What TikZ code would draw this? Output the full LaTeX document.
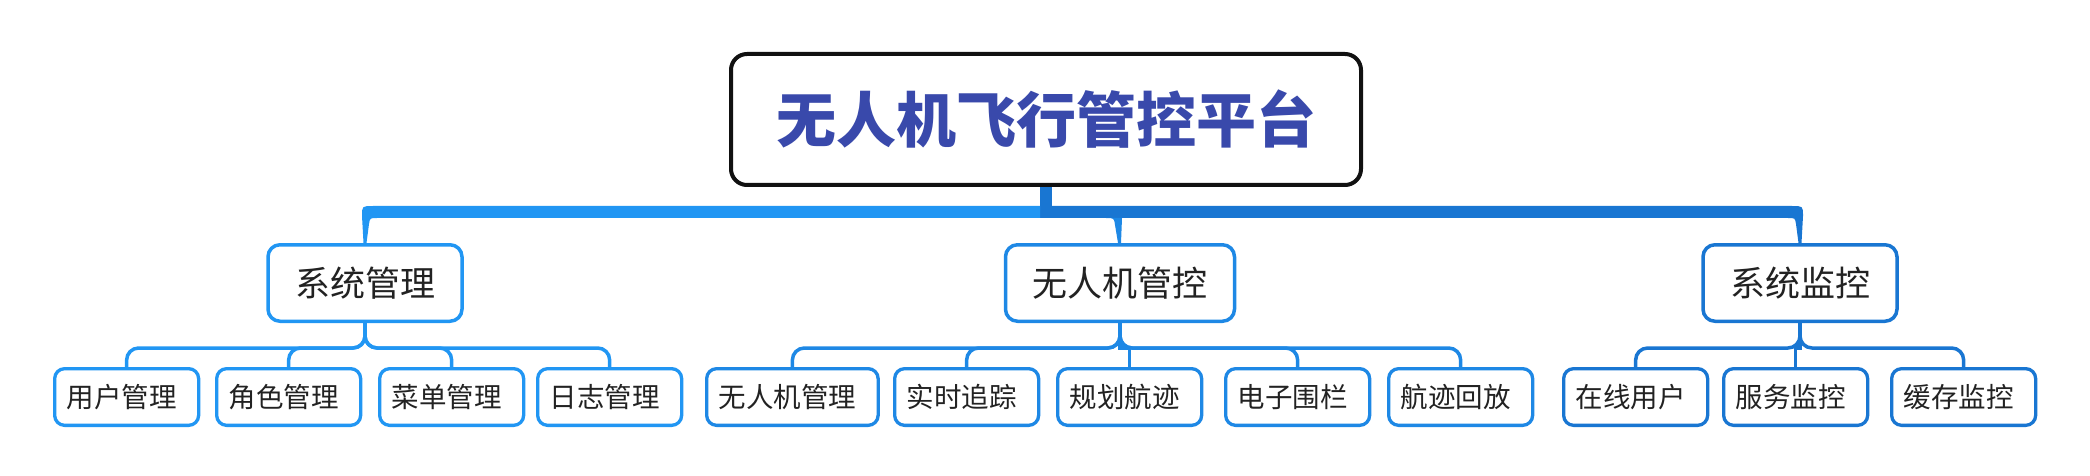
\documentclass[tikz,border=0pt]{standalone}
\usepackage{fontspec}
\setmainfont{Noto Sans CJK SC}
\usetikzlibrary{calc}
\definecolor{cL}{HTML}{2196F3}
\definecolor{cM}{HTML}{1E88E5}
\definecolor{cR}{HTML}{1976D2}
\definecolor{titleblue}{HTML}{3949AB}
\definecolor{ink}{HTML}{222222}
\definecolor{rim}{HTML}{111111}

\begin{document}
\begin{tikzpicture}[x=0.5pt,y=-0.5pt,
    rootbox/.style={draw=rim,line width=2pt,rounded corners=8pt,fill=white,minimum width=315pt,minimum height=65.5pt,text=titleblue,font=\bfseries\fontsize{30pt}{36pt}\selectfont},
    topic/.style={draw=#1,line width=1.75pt,rounded corners=6pt,fill=white,minimum height=38.25pt,inner xsep=13.5pt,text=ink,font=\fontsize{17.5pt}{21pt}\selectfont},
    leaf/.style={draw=#1,line width=1.65pt,rounded corners=5pt,fill=white,minimum height=28.35pt,inner xsep=6pt,anchor=west,text=ink,font=\fontsize{13.75pt}{16pt}\selectfont,execute at end node={\hspace{5pt}}},
    sub/.style={draw=#1,line width=1.75pt,rounded corners=6pt}]
          \useasboundingbox (0,0) rectangle (2090,476);
          \node[rootbox] (root) at (1046,119.5) {无人机飞行管控平台};
          \node[topic=cL] (sm) at (365,283) {系统管理};
          \node[topic=cM] (um) at (1120,283) {无人机管控};
          \node[topic=cR] (sv) at (1800,283) {系统监控};
          \node[leaf=cL] (l1) at (53,397) {用户管理};
          \node[leaf=cL] (l2) at (215,397) {角色管理};
          \node[leaf=cL] (l3) at (378,397) {菜单管理};
          \node[leaf=cL] (l4) at (536,397) {日志管理};
          \node[leaf=cM] (m1) at (705,397) {无人机管理};
          \node[leaf=cM] (m2) at (893,397) {实时追踪};
          \node[leaf=cM] (m3) at (1056,397) {规划航迹};
          \node[leaf=cM] (m4) at (1224,397) {电子围栏};
          \node[leaf=cM] (m5) at (1387,397) {航迹回放};
          \node[leaf=cR] (r1) at (1562,397) {在线用户};
          \node[leaf=cR] (r2) at (1722,397) {服务监控};
          \node[leaf=cR] (r3) at (1890,397) {缓存监控};
          \coordinate (hub) at (1046,212);
          \fill[cR] ($(root.south)+(-6,0)$) rectangle ($(hub)+(6,0)$);
          \fill[cR] ($(hub)+(-6,-6)$) -- ($(sv.north|-hub)+(-8,-6)$) .. controls ($(sv.north|-hub)+(3,-6)$) .. ($(sv.north|-hub)+(3,4)$) -- ($(sv.north)+(1.5,0)$) -- ($(sv.north)+(-1.5,0)$) -- ($(sv.north|-hub)+(-4,12)$) .. controls ($(sv.north|-hub)+(-5,6)$) .. ($(sv.north|-hub)+(-12,6)$) -- ($(hub)+(-6,6)$) -- cycle;
          \fill[cL] ($(hub)+(-6,-6)$) -- ($(sm.north|-hub)+(8,-6)$) .. controls ($(sm.north|-hub)+(-3,-6)$) .. ($(sm.north|-hub)+(-3,4)$) -- ($(sm.north)+(-1.5,0)$) -- ($(sm.north)+(1.5,0)$) -- ($(sm.north|-hub)+(4,12)$) .. controls ($(sm.north|-hub)+(5,6)$) .. ($(sm.north|-hub)+(12,6)$) -- ($(hub)+(-6,6)$) -- cycle;
          \fill[cM] ($(um.north|-hub)+(-14,6)$) .. controls ($(um.north|-hub)+(-6,6)$) .. ($(um.north|-hub)+(-5,13)$) -- ($(um.north)+(-2,0)$) -- ($(um.north)+(1,0)$) -- ($(um.north|-hub)+(2,6)$) -- cycle;
          \draw[sub=cL] (sm.south) -- ++(0,25) -| (l1.north);
          \draw[sub=cL] (sm.south) -- ++(0,25) -| (l2.north);
          \draw[sub=cL] (sm.south) -- ++(0,25) -| (l3.north);
          \draw[sub=cL] (sm.south) -- ++(0,25) -| (l4.north);
          \draw[sub=cM] (um.south) -- ++(0,25) -| (m1.north);
          \draw[sub=cM] (um.south) -- ++(0,25) -| (m2.north);
          \draw[sub=cM,sharp corners] (um.south) -- ++(0,25) -| (m3.north);
          \draw[sub=cM] (um.south) -- ++(0,25) -| (m4.north);
          \draw[sub=cM] (um.south) -- ++(0,25) -| (m5.north);
          \draw[sub=cR] (sv.south) -- ++(0,25) -| (r1.north);
          \draw[sub=cR,sharp corners] (sv.south) -- ++(0,25) -| (r2.north);
          \draw[sub=cR] (sv.south) -- ++(0,25) -| (r3.north);
        \end{tikzpicture}
\end{document}
